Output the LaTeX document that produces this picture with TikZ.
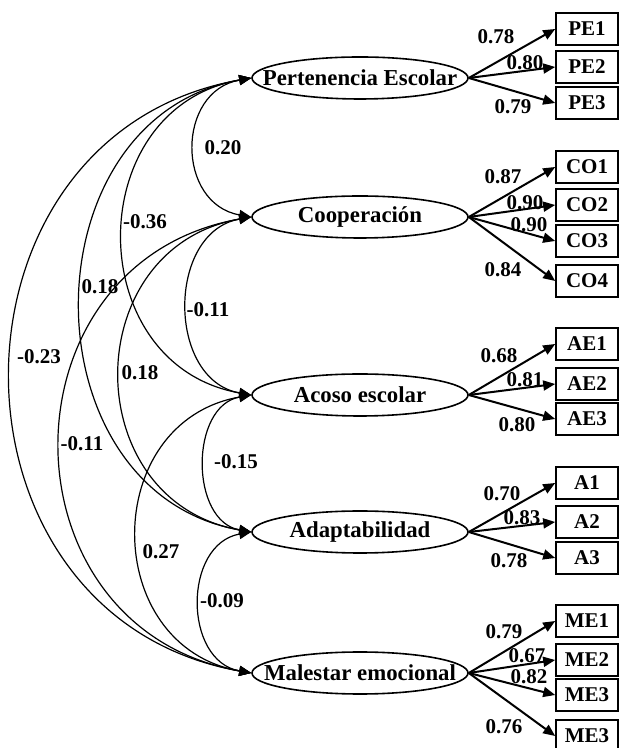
\documentclass[tikz,border=0pt]{standalone}
\usepackage{fontspec}
\setmainfont{Liberation Serif}
\usetikzlibrary{positioning,arrows.meta,shapes.geometric}
% text that does not widen the ellipse
\newcommand{\ftext}[1]{\makebox[0pt]{#1}}

\begin{document}
\begin{tikzpicture}[
  x=0.5pt, y=0.5pt,
  factor/.style={
    ellipse, draw=black, line width=0.8pt, minimum width=108pt,
    minimum height=21pt, inner sep=0pt,
    font=\fontsize{11.4}{13}\selectfont\bfseries
  },
  item/.style={
    rectangle, draw=black, line width=0.8pt, minimum width=31pt,
    minimum height=16pt, inner sep=0pt,
    font=\fontsize{10.5}{12}\selectfont\bfseries
  },
  num/.style={font=\fontsize{10.5}{12}\selectfont\bfseries, inner sep=0pt},
  load/.style={-{Triangle[length=6pt,width=5pt]}, line width=1pt},
  cov/.style={{Triangle[length=6pt,width=5pt]}-{Triangle[length=6pt,width=5pt]}, line width=0.6pt}
]
\useasboundingbox (0,0) rectangle (619,748);

% latent factors
\node[factor] (pe) at (360,670) {\ftext{Pertenencia Escolar}};
\node[factor] (co) at (360,531) {\ftext{Cooperación}};
\node[factor] (ae) at (360,353) {\ftext{Acoso escolar}};
\node[factor] (ad) at (360,216) {\ftext{Adaptabilidad}};
\node[factor] (me) at (360,75) {\ftext{Malestar emocional}};

% indicators
\node[item] (pe1) at (587,719) {PE1};
\node[item] (pe2) at (587,681) {PE2};
\node[item] (pe3) at (587,645) {PE3};
\node[item] (co1) at (587,581) {CO1};
\node[item] (co2) at (587,543) {CO2};
\node[item] (co3) at (587,507) {CO3};
\node[item] (co4) at (587,467) {CO4};
\node[item] (ae1) at (587,404) {AE1};
\node[item] (ae2) at (587,364) {AE2};
\node[item] (ae3) at (587,329) {AE3};
\node[item] (a1) at (587,265) {A1};
\node[item] (a2) at (587,226) {A2};
\node[item] (a3) at (587,190) {A3};
\node[item] (me1) at (587,127) {ME1};
\node[item] (me2) at (587,88) {ME2};
\node[item] (me3) at (587,53) {ME3};
\node[item] (me4) at (587,12) {ME3};

% loadings
\draw[load] (pe.east) -- (pe1.west);
\draw[load] (pe.east) -- (pe2.west);
\draw[load] (pe.east) -- (pe3.west);
\draw[load] (co.east) -- (co1.west);
\draw[load] (co.east) -- (co2.west);
\draw[load] (co.east) -- (co3.west);
\draw[load] (co.east) -- (co4.west);
\draw[load] (ae.east) -- (ae1.west);
\draw[load] (ae.east) -- (ae2.west);
\draw[load] (ae.east) -- (ae3.west);
\draw[load] (ad.east) -- (a1.west);
\draw[load] (ad.east) -- (a2.west);
\draw[load] (ad.east) -- (a3.west);
\draw[load] (me.east) -- (me1.west);
\draw[load] (me.east) -- (me2.west);
\draw[load] (me.east) -- (me3.west);
\draw[load] (me.east) -- (me4.west);

\node[num] (lpe1) at (496,711) {0.78};
\node[num] (lpe2) at (525,685) {0.80};
\node[num] (lpe3) at (513,641) {0.79};
\node[num] (lco1) at (503,571) {0.87};
\node[num] (lco2) at (525,545) {0.90};
\node[num] (lco3) at (529,523) {0.90};
\node[num] (lco4) at (503,478) {0.84};
\node[num] (lae1) at (499,392) {0.68};
\node[num] (lae2) at (525,368) {0.81};
\node[num] (lae3) at (517,323) {0.80};
\node[num] (la1) at (502,254) {0.70};
\node[num] (la2) at (522,230) {0.83};
\node[num] (la3) at (509,187) {0.78};
\node[num] (lme1) at (504,116) {0.79};
\node[num] (lme2) at (527,92) {0.67};
\node[num] (lme3) at (529,71) {0.82};
\node[num] (lme4) at (504,21) {0.76};

% correlations between factors
\draw[cov] (pe.west) to[out=190, in=170, looseness=1.41] (co.west);
\draw[cov] (pe.west) to[out=190, in=170, looseness=1.40] (ae.west);
\draw[cov] (pe.west) to[out=190, in=170, looseness=1.30] (ad.west);
\draw[cov] (pe.west) to[out=190, in=170, looseness=1.40] (me.west);
\draw[cov] (co.west) to[out=190, in=170, looseness=1.24] (ae.west);
\draw[cov] (co.west) to[out=190, in=170, looseness=1.44] (ad.west);
\draw[cov] (co.west) to[out=190, in=170, looseness=1.45] (me.west);
\draw[cov] (ae.west) to[out=190, in=170, looseness=1.17] (ad.west);
\draw[cov] (ae.west) to[out=190, in=170, looseness=1.42] (me.west);
\draw[cov] (ad.west) to[out=190, in=170, looseness=1.26] (me.west);

\node[num] (rpeco) at (223,600) {0.20};
\node[num] (rpeae) at (145,526) {-0.36};
\node[num] (rpead) at (100,461) {0.18};
\node[num] (rpeme) at (39,391) {-0.23};
\node[num] (rcoae) at (208,438) {-0.11};
\node[num] (rcoad) at (140,375) {0.18};
\node[num] (rcome) at (82,304) {-0.11};
\node[num] (raead) at (236,286) {-0.15};
\node[num] (raeme) at (161,196) {0.27};
\node[num] (radme) at (222,147) {-0.09};

\end{tikzpicture}
\end{document}
